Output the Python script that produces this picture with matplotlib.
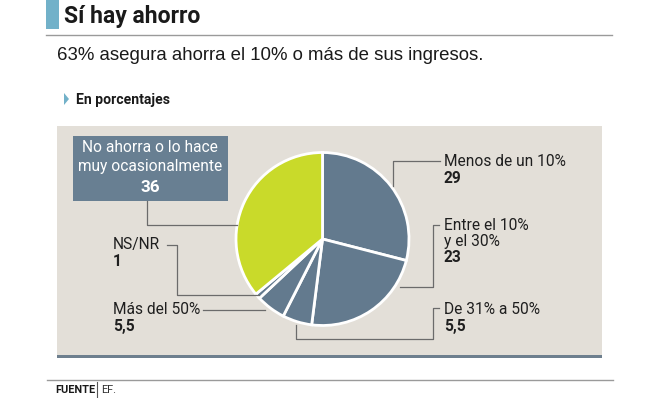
import matplotlib
matplotlib.use("Agg")
import matplotlib.pyplot as plt
from matplotlib import font_manager
from matplotlib.patches import Rectangle, Polygon

# data
categories = ["Menos de un 10%", "Entre el 10%\ny el 30%", "De 31% a 50%",
              "Más del 50%", "NS/NR", "No ahorra o lo hace\nmuy ocasionalmente"]
values = [29, 23, 5.5, 5.5, 1, 36]
value_labels = ["29", "23", "5,5", "5,5", "1", "36"]
slice_colors = ["#637a8e", "#637a8e", "#637a8e", "#637a8e", "#637a8e", "#c9da2a"]

W, H = 653, 398
names = {f.name for f in font_manager.fontManager.ttflist}
narrow = "Liberation Sans Narrow" if "Liberation Sans Narrow" in names else "Roboto"
plt.rcParams["font.family"] = [narrow, "DejaVu Sans"]


def Y(y):
    return H - y


def px(s):
    return s * 0.72


fig = plt.figure(figsize=(W / 100, H / 100), dpi=100)
ax = fig.add_axes([0, 0, 1, 1])

# header
ax.add_patch(Rectangle((46, Y(29)), 13, 29, color="#72b1c9", lw=0))
ax.text(64, Y(17), "Sí hay ahorro", fontsize=px(23), fontweight="bold",
        color="#1a1a1a", va="center", ha="left")
ax.plot([46, 612], [Y(35), Y(35)], color="#9a9a9a", lw=1)
ax.text(57, Y(55), "63% asegura ahorra el 10% o más de sus ingresos.",
        fontsize=px(18.6), color="#1a1a1a", va="center", ha="left",
        family=["Liberation Sans", "DejaVu Sans"])
ax.add_patch(Polygon([[64, Y(93)], [64, Y(105)], [69, Y(99)]], color="#72b1c9", lw=0))
ax.text(76, Y(100), "En porcentajes", fontsize=px(14), fontweight="bold",
        color="#1a1a1a", va="center", ha="left")

# panel
ax.add_patch(Rectangle((57, Y(355)), 545, 229, color="#e3dfd8", lw=0))
ax.add_patch(Rectangle((57, Y(358)), 545, 3.5, color="#6e7f8e", lw=0))

# pie
cx, cy, r = 322.5, Y(239), 86.5
ax.pie(values, colors=slice_colors, startangle=90, counterclock=False,
       center=(cx, cy), radius=r,
       wedgeprops=dict(edgecolor="white", linewidth=2))

lc = "#6b6b6b"
lw = 0.9
tc = "#1f1f1f"
fs = px(15.5)

# connectors
ax.plot([393, 393, 440], [Y(186), Y(161), Y(161)], color=lc, lw=lw)
ax.plot([400, 433, 433, 439], [Y(287), Y(287), Y(225), Y(225)], color=lc, lw=lw)
ax.plot([296, 296, 433, 433, 439], [Y(325), Y(339), Y(339), Y(308), Y(308)], color=lc, lw=lw)
ax.plot([203, 265], [Y(310), Y(310)], color=lc, lw=lw)
ax.plot([167, 177, 177, 259], [Y(245), Y(245), Y(295), Y(295)], color=lc, lw=lw)
ax.plot([147, 147, 237], [Y(201), Y(225), Y(225)], color=lc, lw=lw)

# outside labels: first line position, one line = 16.5 px
label_pos = {0: (444, 162), 1: (444, 225), 2: (444, 310),
             3: (113, 310), 4: (113, 245)}
for i, (x, y) in label_pos.items():
    lines = categories[i].split("\n")
    for k, line in enumerate(lines):
        ax.text(x, Y(y + 16.5 * k), line, fontsize=fs, color=tc,
                va="center", ha="left")
    ax.text(x, Y(y + 16.5 * len(lines)), value_labels[i], fontsize=fs,
            fontweight="bold", color=tc, va="center", ha="left")

# box label
ax.add_patch(Rectangle((73, Y(201)), 155, 65, color="#687f92", lw=0))
for k, line in enumerate(categories[5].split("\n")):
    ax.text(150, Y(148 + 19 * k), line, fontsize=px(15.5), color="white",
            va="center", ha="center")
ax.text(150, Y(187), value_labels[5], fontsize=px(17), fontweight="bold",
        color="white", va="center", ha="center")

# footer
ax.plot([47, 613], [Y(380), Y(380)], color="#9a9a9a", lw=1)
ax.text(55, Y(390), "FUENTE", fontsize=px(11), fontweight="bold", color="#1a1a1a",
        va="center", ha="left")
ax.plot([97, 97], [Y(382), Y(398)], color="#555555", lw=0.8)
ax.text(101, Y(390), "EF.", fontsize=px(11), color="#333333", va="center", ha="left")

ax.set_xlim(0, W)
ax.set_ylim(0, H)
ax.set_aspect("auto")
ax.axis("off")
fig.savefig("out.png", dpi=100, facecolor="white")
